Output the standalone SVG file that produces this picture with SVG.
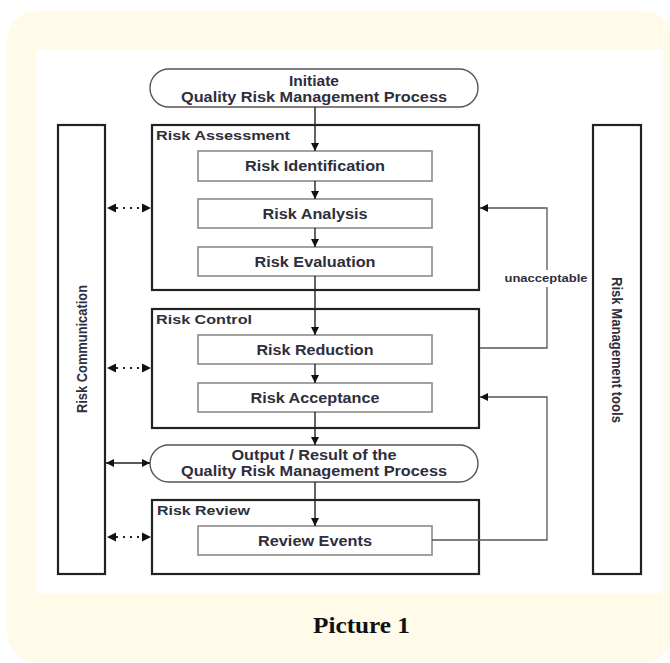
<svg xmlns="http://www.w3.org/2000/svg" width="670" height="663" viewBox="0 0 670 663">
<defs>
<style>
.t{font-family:"Liberation Sans",Arial,sans-serif;font-weight:bold;font-size:14px;fill:#2e2e3c}
.lbl{font-family:"Liberation Sans",Arial,sans-serif;font-weight:bold;font-size:13.5px;fill:#2e2e3c}
.small{font-family:"Liberation Sans",Arial,sans-serif;font-weight:bold;font-size:10px;fill:#2e2e3c}
.outer{fill:#fff;stroke:#222;stroke-width:2.2}
.inner{fill:#fff;stroke:#8a8a8a;stroke-width:1.6}
.pill{fill:#fff;stroke:#555;stroke-width:1.4}
.ln{fill:none;stroke:#222;stroke-width:1.4}
.fb{fill:none;stroke:#555;stroke-width:1.3}
.dot{fill:none;stroke:#222;stroke-width:2;stroke-dasharray:2 5}
</style>
<marker id="ah" viewBox="0 0 10 10" refX="10" refY="5" markerWidth="8" markerHeight="8" markerUnits="userSpaceOnUse" orient="auto-start-reverse">
<path d="M0,0 L10,5 L0,10 z" fill="#111"/>
</marker>
</defs>
<rect x="7" y="11" width="666" height="651" rx="30" fill="#fffbe8"/>
<rect x="36" y="50" width="627" height="543" fill="#fff"/>

<g id="risk-communication">
<rect class="outer" x="58" y="125" width="47" height="449"/>
<text class="t" transform="translate(87,349) rotate(-90)" text-anchor="middle" textLength="128" lengthAdjust="spacingAndGlyphs">Risk Communication</text>
</g>
<g id="risk-management-tools">
<rect class="outer" x="593" y="125" width="48" height="449"/>
<text class="t" transform="translate(612,350) rotate(90)" text-anchor="middle" textLength="146" lengthAdjust="spacingAndGlyphs">Risk Management tools</text>
</g>

<g id="risk-assessment">
<rect class="outer" x="152" y="125" width="327" height="165"/>
<text class="lbl" x="156" y="140" textLength="134" lengthAdjust="spacingAndGlyphs">Risk Assessment</text>
</g>
<g id="risk-control">
<rect class="outer" x="152" y="309" width="327" height="119"/>
<text class="lbl" x="156" y="324" textLength="96" lengthAdjust="spacingAndGlyphs">Risk Control</text>
</g>
<g id="risk-review">
<rect class="outer" x="152" y="500" width="327" height="74"/>
<text class="lbl" x="157" y="515" textLength="93" lengthAdjust="spacingAndGlyphs">Risk Review</text>
</g>

<g id="initiate">
<rect class="pill" x="150" y="69" width="328" height="38" rx="19"/>
<text class="t" x="314" y="86" text-anchor="middle" textLength="50" lengthAdjust="spacingAndGlyphs">Initiate</text>
<text class="t" x="314" y="102" text-anchor="middle" textLength="266" lengthAdjust="spacingAndGlyphs">Quality Risk Management Process</text>
</g>
<g id="risk-identification">
<rect class="inner" x="198" y="151" width="234" height="30"/>
<text class="t" x="315" y="171" text-anchor="middle" textLength="140" lengthAdjust="spacingAndGlyphs">Risk Identification</text>
</g>
<g id="risk-analysis">
<rect class="inner" x="198" y="199" width="234" height="29"/>
<text class="t" x="315" y="218.5" text-anchor="middle" textLength="105" lengthAdjust="spacingAndGlyphs">Risk Analysis</text>
</g>
<g id="risk-evaluation">
<rect class="inner" x="198" y="247" width="234" height="29"/>
<text class="t" x="315" y="266.5" text-anchor="middle" textLength="121" lengthAdjust="spacingAndGlyphs">Risk Evaluation</text>
</g>
<g id="risk-reduction">
<rect class="inner" x="198" y="335" width="234" height="29"/>
<text class="t" x="315" y="354.5" text-anchor="middle" textLength="117" lengthAdjust="spacingAndGlyphs">Risk Reduction</text>
</g>
<g id="risk-acceptance">
<rect class="inner" x="198" y="383" width="234" height="29"/>
<text class="t" x="315" y="402.5" text-anchor="middle" textLength="129" lengthAdjust="spacingAndGlyphs">Risk Acceptance</text>
</g>
<g id="output">
<rect class="pill" x="150" y="445" width="328" height="37" rx="18.5"/>
<text class="t" x="314" y="460" text-anchor="middle" textLength="165" lengthAdjust="spacingAndGlyphs">Output / Result of the</text>
<text class="t" x="314" y="476" text-anchor="middle" textLength="266" lengthAdjust="spacingAndGlyphs">Quality Risk Management Process</text>
</g>
<g id="review-events">
<rect class="inner" x="198" y="526" width="234" height="29"/>
<text class="t" x="315" y="545.5" text-anchor="middle" textLength="114" lengthAdjust="spacingAndGlyphs">Review Events</text>
</g>

<g id="connectors">
<line class="ln" x1="315" y1="107" x2="315" y2="151" marker-end="url(#ah)"/>
<line class="ln" x1="315" y1="181" x2="315" y2="199" marker-end="url(#ah)"/>
<line class="ln" x1="315" y1="228" x2="315" y2="247" marker-end="url(#ah)"/>
<line class="ln" x1="315" y1="276" x2="315" y2="335" marker-end="url(#ah)"/>
<line class="ln" x1="315" y1="364" x2="315" y2="383" marker-end="url(#ah)"/>
<line class="ln" x1="315" y1="412" x2="315" y2="445" marker-end="url(#ah)"/>
<line class="ln" x1="315" y1="482" x2="315" y2="526" marker-end="url(#ah)"/>

<line class="dot" x1="116" y1="208" x2="142" y2="208"/>
<path d="M107,208 l9,-4.5 v9 z M151,208 l-9,-4.5 v9 z" fill="#111"/>
<line class="dot" x1="116" y1="368" x2="142" y2="368"/>
<path d="M107,368 l9,-4.5 v9 z M151,368 l-9,-4.5 v9 z" fill="#111"/>
<line class="dot" x1="116" y1="537" x2="142" y2="537"/>
<path d="M107,537 l9,-4.5 v9 z M151,537 l-9,-4.5 v9 z" fill="#111"/>
<line class="ln" x1="106" y1="463" x2="150" y2="463" marker-start="url(#ah)" marker-end="url(#ah)"/>

<path class="fb" d="M480,348 H547 V287"/>
<path class="fb" d="M547,270 V208 H480" marker-end="url(#ah)"/>
<text class="small" x="546" y="282" text-anchor="middle" textLength="83" lengthAdjust="spacingAndGlyphs">unacceptable</text>
<path class="fb" d="M432,540 H547 V397 H480" marker-end="url(#ah)"/>
</g>

<text x="361.5" y="633" text-anchor="middle" font-family="'Liberation Serif','Times New Roman',serif" font-weight="bold" font-size="24" fill="#111" textLength="97" lengthAdjust="spacingAndGlyphs">Picture 1</text>
</svg>
